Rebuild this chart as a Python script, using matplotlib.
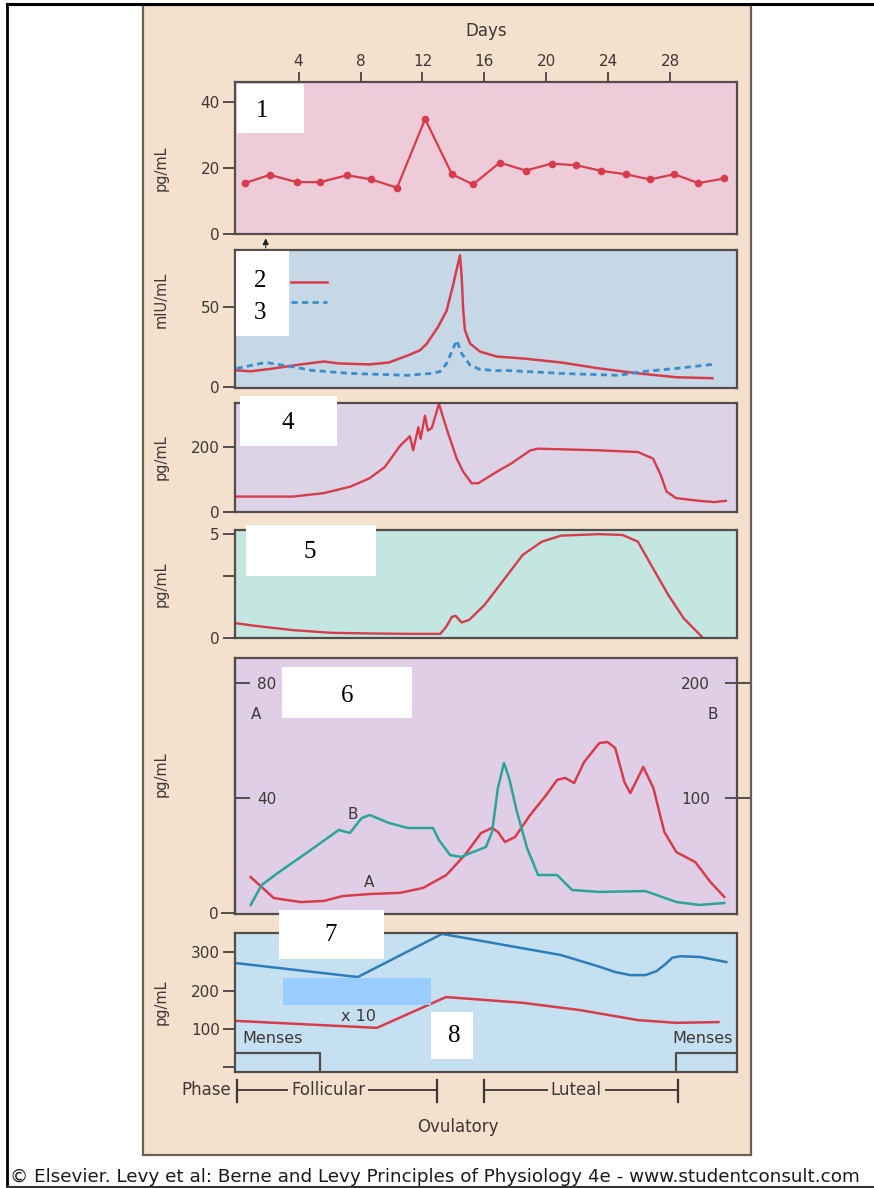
import matplotlib
matplotlib.use('Agg')
import matplotlib.pyplot as plt
import matplotlib.transforms as mtransforms
from matplotlib.patches import Rectangle

# ---------------- data ----------------
tick_days = [4, 8, 12, 16, 20, 24, 28]

# panel 1 (pg/mL)
p1_days = [0.54, 2.15, 3.88, 5.41, 7.14, 8.70, 10.36, 12.17, 13.90, 15.26,
           16.99, 18.67, 20.33, 21.94, 23.55, 25.11, 26.69, 28.25, 29.81, 31.46]
p1_vals = [15.4, 17.9, 15.7, 15.7, 17.8, 16.5, 14.0, 34.8, 18.1, 15.0,
           21.6, 19.2, 21.3, 20.8, 19.1, 18.1, 16.5, 18.1, 15.4, 16.8]

# panel 2 (mIU/mL) - series 2 (solid) and 3 (dashed)
p2_days = [0.0, 0.91, 2.40, 4.14, 5.63, 6.60, 8.60, 9.83, 11.06, 11.84, 12.27,
           13.02, 13.56, 13.99, 14.42, 14.53, 14.63, 14.74, 15.07, 15.71, 16.79,
           18.49, 20.95, 23.41, 25.93, 28.38, 30.71]
p2_vals = [10.5, 9.9, 11.7, 14.2, 16.0, 14.8, 14.2, 15.4, 19.8, 23.0, 27.0,
           37.8, 47.7, 64.2, 82.3, 68.7, 47.7, 35.6, 27.2, 22.2, 19.1,
           17.9, 15.4, 11.7, 8.6, 6.2, 5.6]
p3_days = [0.0, 1.88, 3.11, 4.85, 7.31, 11.06, 12.55, 13.13, 13.56, 14.21,
           14.53, 15.07, 15.71, 16.79, 17.27, 20.95, 24.64, 26.38, 28.38, 30.71]
p3_vals = [11.7, 15.4, 13.6, 10.5, 8.6, 7.4, 8.6, 9.7, 14.8, 29.2,
           21.0, 13.8, 11.1, 10.3, 10.5, 8.6, 7.4, 9.9, 11.7, 14.2]

# panel 4 (pg/mL)
p4_days = [0.0, 3.63, 5.61, 7.34, 8.58, 9.57, 10.54, 11.19, 11.40, 11.73, 11.88,
           12.16, 12.35, 12.61, 13.06, 13.56, 14.21, 14.63, 15.18, 15.60, 16.79,
           17.73, 18.97, 19.46, 23.42, 25.90, 26.88, 27.38, 27.75, 28.37, 29.86,
           30.84, 31.58]
p4_vals = [47, 47, 57.5, 77.8, 103.7, 139, 204, 234.8, 190.8, 262.5, 226.8,
           298.5, 252, 261, 336, 257.5, 165.2, 124, 88.3, 88.3, 124,
           150, 190.8, 196, 190.8, 185.5, 165.2, 113.8, 62.5, 42.2, 33.8,
           29.8, 33.8]

# panel 5 (pg/mL)
p5_days = [0.0, 1.16, 3.63, 6.11, 8.58, 11.05, 13.15, 13.53, 13.90, 14.14,
           14.52, 15.01, 16.00, 17.24, 18.47, 19.71, 20.95, 23.42, 24.91, 25.90,
           26.88, 27.87, 28.86, 30.10]
p5_vals = [0.70, 0.58, 0.37, 0.24, 0.21, 0.19, 0.19, 0.53, 1.01, 1.06,
           0.74, 0.86, 1.58, 2.79, 4.0, 4.64, 4.93, 5.0, 4.96, 4.64,
           3.35, 2.06, 0.94, 0.0]

# panel 6: curve A (left axis) and curve B (right axis)
p6a_days = [0.91, 2.40, 4.14, 5.63, 6.86, 8.60, 10.54, 12.03, 13.54, 14.74,
            15.78, 16.49, 16.87, 17.32, 17.97, 18.95, 19.98, 20.69, 21.21, 21.79,
            22.43, 23.41, 23.93, 24.44, 25.03, 25.41, 25.93, 26.25, 26.90, 27.61,
            28.38, 29.61, 30.58, 31.48]
p6a_vals = [12.5, 5.2, 3.8, 4.2, 5.9, 6.6, 7.0, 8.7, 13.2, 20.2,
            27.8, 29.6, 28.2, 24.7, 26.4, 34.1, 41.0, 46.3, 47.0, 45.2,
            52.5, 59.1, 59.5, 57.4, 45.6, 41.7, 47.3, 50.8, 43.5, 28.2,
            21.2, 17.7, 10.8, 5.6]
p6b_days = [0.91, 1.62, 2.66, 4.60, 6.60, 7.31, 8.08, 8.60, 9.83, 11.06,
            12.68, 13.06, 13.78, 14.49, 15.26, 16.10, 16.49, 16.87, 17.26, 17.59,
            18.10, 18.75, 19.46, 20.69, 21.66, 23.41, 26.38, 28.38, 29.86, 31.48]
p6b_vals = [7.0, 24.3, 34.8, 53.0, 72.2, 69.6, 82.6, 85.2, 78.3, 73.9,
            73.9, 63.5, 50.4, 48.7, 53.0, 57.4, 70.4, 108.7, 130.4, 117.4,
            87.8, 56.5, 33.0, 33.0, 20.0, 18.3, 19.1, 9.6, 7.0, 8.7]

# panel 7 (pg/mL): series 7 and 8 (x 10)
p7_days = [0.0, 7.82, 13.26, 20.95, 23.41, 24.44, 25.41, 26.38, 27.09, 27.67,
           28.12, 28.64, 29.93, 31.61]
p7_vals = [271, 235, 347, 292, 262, 248, 240, 240, 250, 268,
           285, 289, 287, 274]
p8_days = [0.0, 9.06, 13.52, 18.49, 22.18, 25.93, 28.38, 31.10]
p8_vals = [121, 103, 183, 168, 149, 123, 116, 118]

phase_names = ['Follicular', 'Luteal']
phase_start = [0.04, 16.0]
phase_end = [12.91, 28.49]
phase_label_day = [5.92, 21.92]
menses_end = 5.37
menses_start2 = 28.37

# ---------------- style ----------------
W, H = 874, 1188
BEIGE = '#f3e1cd'
TC = '#3e3636'
SP = '#544c4c'
RED = '#d63c4c'
BLUE_D = '#3a8ccb'
TEAL = '#2aa596'
BLUE = '#2c7db9'
FONT = 'DejaVu Sans'
plt.rcParams['font.family'] = [FONT]

fig = plt.figure(figsize=(W / 100, H / 100), dpi=100)
fig.patch.set_facecolor('white')

# background (beige sheet + outer frame)
bg = fig.add_axes([0, 0, 1, 1], zorder=-5)
bg.set_xlim(0, W)
bg.set_ylim(H, 0)
bg.axis('off')
bg.add_patch(Rectangle((143, 5), 608, 1150, facecolor=BEIGE, edgecolor='#6a6058', lw=1.6))
bg.plot([7, W], [4, 4], color='black', lw=2.2)
bg.plot([7, 7], [4, H], color='black', lw=2.0)
bg.plot([7, W], [H - 1, H - 1], color='#333333', lw=1.5)
bg.text(10, 1177, '\u00a9 Elsevier. Levy et al: Berne and Levy Principles of Physiology 4e - www.studentconsult.com',
        fontsize=13.2, color='#1a1a1a', va='center', ha='left')


def panel(top, bottom, color):
    ax = fig.add_axes([235 / W, 1 - bottom / H, 502 / W, (bottom - top) / H])
    ax.set_facecolor(color)
    for s in ax.spines.values():
        s.set_color(SP)
        s.set_linewidth(1.6)
    ax.set_xlim(-0.1, 32.3)
    ax.set_xticks([])
    ax.tick_params(axis='y', direction='out', length=9, width=1.4, color=SP,
                   labelsize=11, labelcolor=TC, pad=2)
    return ax


def ylab(ax, text, yfrac):
    ax.set_ylabel(text, fontsize=10.5, color=TC)
    ax.yaxis.set_label_coords(-0.133, yfrac)


# ---- panel 1
ax1 = panel(82, 234, '#edcbd9')
ax1.plot(p1_days, p1_vals, color=RED, lw=1.6, marker='o', ms=4.5, mec=RED, mfc=RED)
ax1.set_ylim(0, 46)
ax1.set_yticks([0, 20, 40])
ax1.xaxis.tick_top()
ax1.set_xticks(tick_days)
ax1.tick_params(axis='x', direction='out', length=7, width=1.4, color=SP,
                labelsize=11, labelcolor=TC, pad=2)
ax1.xaxis.set_label_position('top')
ax1.set_xlabel('Days', fontsize=12, color=TC, labelpad=13)
ylab(ax1, 'pg/mL', 0.43)
ax1.annotate('', xy=(1.88, -0.01), xycoords=('data', 'axes fraction'),
             xytext=(1.88, -0.11), textcoords=('data', 'axes fraction'),
             arrowprops=dict(arrowstyle='-|>', color='#222222', lw=0.8, mutation_scale=9),
             annotation_clip=False)

# ---- panel 2
ax2 = panel(250, 388, '#c6d7e6')
ax2.plot(p2_days, p2_vals, color=RED, lw=1.8)
ax2.plot(p3_days, p3_vals, color=BLUE_D, lw=2.0, ls=(0, (2.2, 1.6)))
ax2.set_ylim(-0.5, 85.5)
ax2.set_yticks([0, 50])
ylab(ax2, 'mIU/mL', 0.64)
ax2.plot([0.112, 0.183], [0.768, 0.768], transform=ax2.transAxes, color=RED, lw=1.8)
ax2.plot([0.112, 0.183], [0.623, 0.623], transform=ax2.transAxes, color=BLUE_D, lw=2.0,
         ls=(0, (2.2, 1.6)))

# ---- panel 3
ax3 = panel(403, 512, '#dcd4e6')
ax3.plot(p4_days, p4_vals, color=RED, lw=1.7)
ax3.set_ylim(-1, 338)
ax3.set_yticks([0, 200])
ylab(ax3, 'pg/mL', 0.5)

# ---- panel 4
ax4 = panel(530, 638, '#c4e6e0')
ax4.plot(p5_days, p5_vals, color=RED, lw=1.7)
ax4.set_ylim(-0.01, 5.2)
ax4.set_yticks([0, 3, 5])
ax4.set_yticklabels(['0', '', '5'])
ylab(ax4, 'pg/mL', 0.5)

# ---- panel 5
ax5 = panel(658, 914, '#e0cee6')
ax5.plot(p6a_days, p6a_vals, color=RED, lw=1.8)
ax5.set_ylim(-0.35, 88.7)
ax5.set_yticks([40, 80])
ax5.tick_params(axis='y', direction='in', length=11, pad=-16)
for lab in ax5.get_yticklabels():
    lab.set_horizontalalignment('left')
sec = ax5.secondary_yaxis('left')
sec.set_yticks([0])
sec.tick_params(axis='y', direction='out', length=10, width=1.4, color=SP,
                labelsize=11, labelcolor=TC, pad=2)
sec.spines['left'].set_color(SP)
sec.spines['left'].set_linewidth(1.6)
ax5b = ax5.twinx()
ax5b.patch.set_visible(False)
for s in ax5b.spines.values():
    s.set_visible(False)
ax5b.plot(p6b_days, p6b_vals, color=TEAL, lw=1.8)
ax5b.set_ylim(-0.87, 221.7)
ax5b.set_yticks([100, 200])
ax5b.tick_params(axis='y', direction='inout', length=18, width=1.4, color=SP,
                 labelsize=11, labelcolor=TC, pad=-28.5)
for lab in ax5b.get_yticklabels():
    lab.set_horizontalalignment('right')
ax5.set_xlim(-0.1, 32.3)
ylab(ax5, 'pg/mL', 0.545)
ax5.text(1.28, 68.9, 'A', fontsize=11, color=TC, ha='center', va='center')
ax5.text(30.71, 68.9, 'B', fontsize=11, color=TC, ha='center', va='center')
ax5.text(7.47, 34.3, 'B', fontsize=11, color=TC, ha='center', va='center')
ax5.text(8.58, 10.5, 'A', fontsize=11, color=TC, ha='center', va='center')

# ---- panel 6
ax6 = panel(933, 1072, '#c5e0f0')
ax6.plot(p7_days, p7_vals, color=BLUE, lw=1.8)
ax6.plot(p8_days, p8_vals, color=RED, lw=1.8)
ax6.set_ylim(-11.7, 349.4)
ax6.set_yticks([0, 100, 200, 300])
ax6.set_yticklabels(['', '100', '200', '300'])
ylab(ax6, 'pg/mL', 0.5)
ylo = -11.7
ax6.plot([-0.1, menses_end, menses_end], [38.4, 38.4, ylo], color=SP, lw=1.6)
ax6.plot([menses_start2, menses_start2, 32.3], [ylo, 38.4, 38.4], color=SP, lw=1.6)
ax6.text(0.4, 76, 'Menses', fontsize=11.5, color=TC, ha='left', va='center')
ax6.text(32.0, 76, 'Menses', fontsize=11.5, color=TC, ha='right', va='center')
ax6.text(7.9, 132, 'x 10', fontsize=11.5, color=TC, ha='center', va='center')

# phase row
tr = mtransforms.blended_transform_factory(ax6.transData, ax6.transAxes)
yrow = -0.1295
ax6.text(-0.32, yrow, 'Phase', transform=tr, fontsize=12, color=TC, ha='right',
         va='center')
for name, s, e, c in zip(phase_names, phase_start, phase_end, phase_label_day):
    ax6.plot([s, e], [yrow, yrow], transform=tr, color=TC, lw=1.3, clip_on=False)
    for xx in (s, e):
        ax6.plot([xx, xx], [-0.058, -0.216], transform=tr, color=TC, lw=1.6,
                 clip_on=False)
    ax6.text(c, yrow, name, transform=tr, fontsize=12, color=TC, ha='center',
             va='center', bbox=dict(facecolor=BEIGE, edgecolor='none', pad=2))
ax6.text(14.27, -0.394, 'Ovulatory', transform=tr, fontsize=12, color=TC,
         ha='center', va='center')

# ---- overlay: white answer boxes
ov = fig.add_axes([0, 0, 1, 1], zorder=20)
ov.set_xlim(0, W)
ov.set_ylim(H, 0)
ov.axis('off')
ov.patch.set_alpha(0)
boxes = [(237, 84, 304, 133), (236, 251, 289, 336), (240, 396, 337, 446),
         (246, 525, 376, 576), (282, 667, 412, 718), (279, 910, 384, 959),
         (431, 1012, 473, 1059)]
for x0, y0, x1, y1 in boxes:
    ov.add_patch(Rectangle((x0, y0), x1 - x0, y1 - y0, facecolor='white', edgecolor='none'))
ov.add_patch(Rectangle((283, 978), 148, 27, facecolor='#99ccff', edgecolor='none'))
nums = [('1', 262, 111), ('2', 260, 281), ('3', 260, 313), ('4', 288, 423),
        ('5', 310, 552), ('6', 347, 696), ('7', 331, 935), ('8', 454, 1036)]
for t, x, y in nums:
    ov.text(x, y, t, fontsize=18, family='Liberation Serif', color='black',
            ha='center', va='center')

fig.savefig('out.png', dpi=100, facecolor='white')
